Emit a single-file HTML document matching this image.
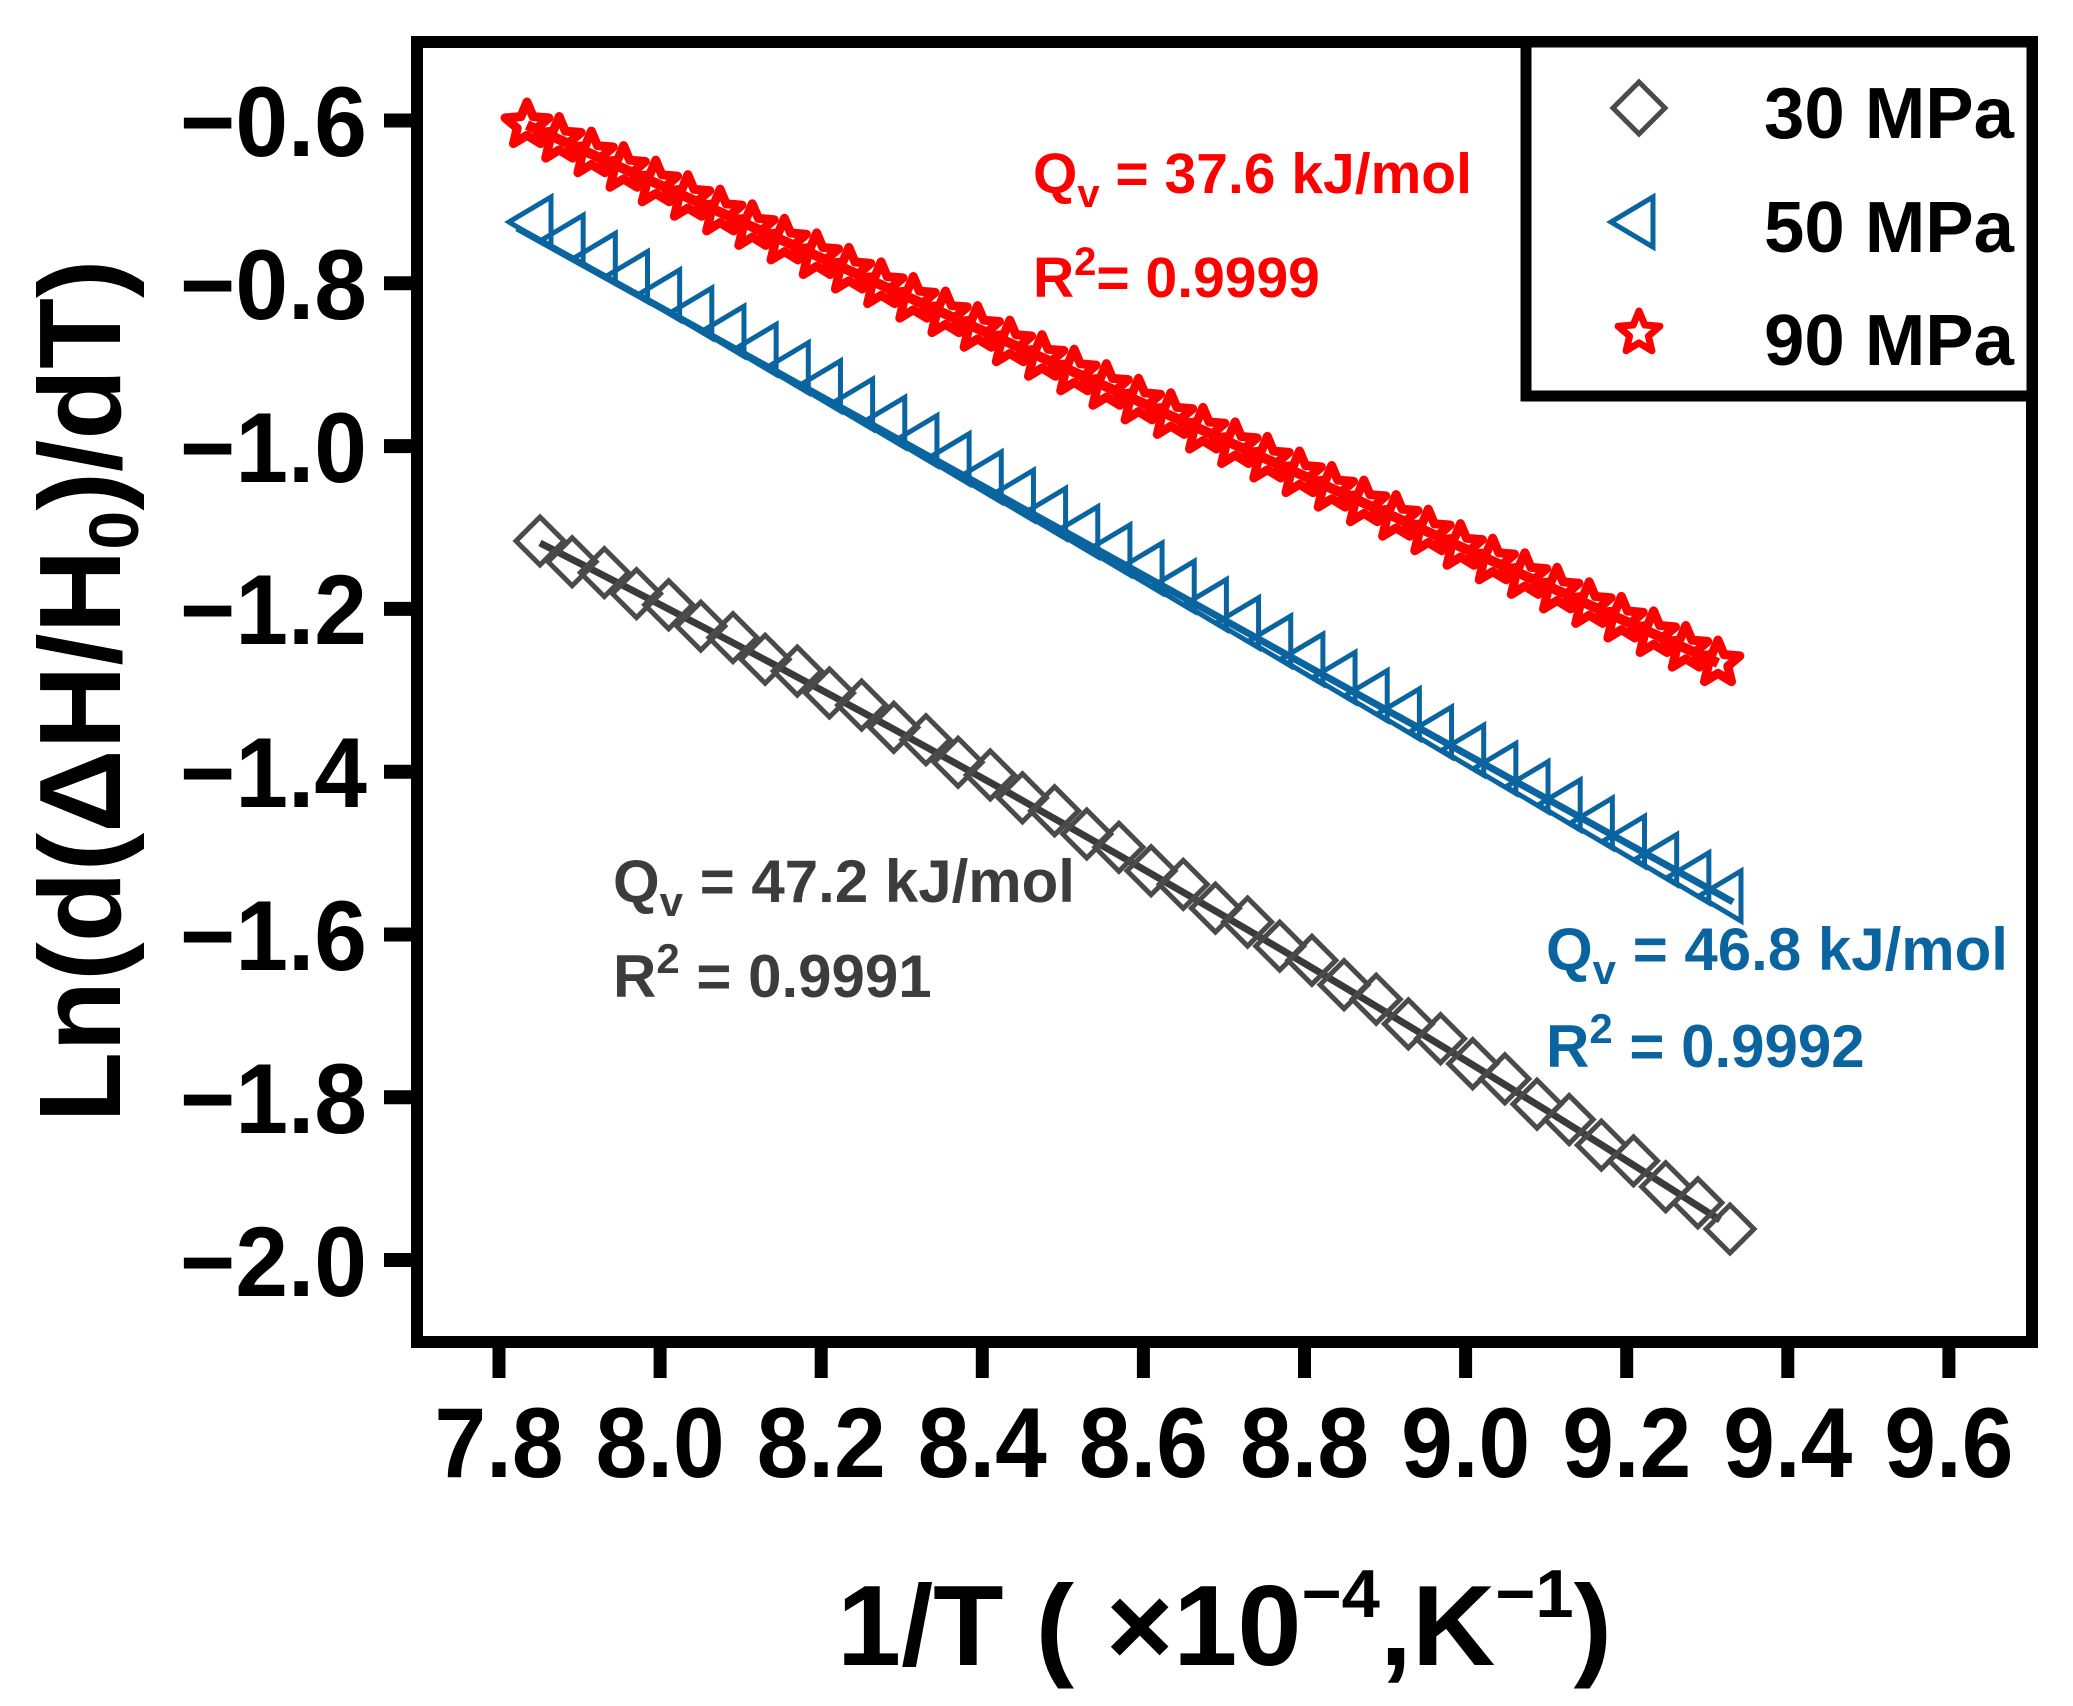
<!DOCTYPE html>
<html><head><meta charset="utf-8"><style>
html,body{margin:0;padding:0;background:#fff;}
svg{display:block;}
text{font-family:"Liberation Sans",Arial,sans-serif;font-weight:bold;}
</style></head><body>
<svg id="s" width="2073" height="1706" viewBox="0 0 2073 1706" xmlns="http://www.w3.org/2000/svg">
<rect width="2073" height="1706" fill="#fff"/>
<g id="data"></g>
<rect x="417" y="42" width="1615" height="1300" fill="none" stroke="#000" stroke-width="12"/>
<rect x="1526" y="42" width="506" height="354" fill="#fff" stroke="#000" stroke-width="11"/>
<polygon points="1639,82 1665,108 1639,134 1613,108" fill="none" stroke="#4a4a4a" stroke-width="5"/>
<polygon points="1611,222 1653,197 1653,247" fill="none" stroke="#0a64a0" stroke-width="5"/>
<g id="legstar"></g>
<text x="1764" y="138" font-size="72" textLength="250" lengthAdjust="spacingAndGlyphs">30 MPa</text>
<text x="1764" y="252" font-size="72" textLength="250" lengthAdjust="spacingAndGlyphs">50 MPa</text>
<text x="1764" y="365" font-size="72" textLength="250" lengthAdjust="spacingAndGlyphs">90 MPa</text>
<g stroke="#000" stroke-width="14">
<line x1="384" y1="120.5" x2="417" y2="120.5"/>
<line x1="384" y1="283.3" x2="417" y2="283.3"/>
<line x1="384" y1="446.1" x2="417" y2="446.1"/>
<line x1="384" y1="608.9" x2="417" y2="608.9"/>
<line x1="384" y1="771.7" x2="417" y2="771.7"/>
<line x1="384" y1="934.5" x2="417" y2="934.5"/>
<line x1="384" y1="1097.3" x2="417" y2="1097.3"/>
<line x1="384" y1="1260" x2="417" y2="1260"/>
</g>
<g font-size="99" text-anchor="end">
<text x="367" y="156" textLength="187" lengthAdjust="spacingAndGlyphs">−0.6</text>
<text x="367" y="319" textLength="187" lengthAdjust="spacingAndGlyphs">−0.8</text>
<text x="367" y="482" textLength="187" lengthAdjust="spacingAndGlyphs">−1.0</text>
<text x="367" y="644" textLength="187" lengthAdjust="spacingAndGlyphs">−1.2</text>
<text x="367" y="807" textLength="187" lengthAdjust="spacingAndGlyphs">−1.4</text>
<text x="367" y="970" textLength="187" lengthAdjust="spacingAndGlyphs">−1.6</text>
<text x="367" y="1133" textLength="187" lengthAdjust="spacingAndGlyphs">−1.8</text>
<text x="367" y="1296" textLength="187" lengthAdjust="spacingAndGlyphs">−2.0</text>
</g>
<g id="xt" stroke="#000" stroke-width="13"></g>
<g id="xl" font-size="99" text-anchor="middle"></g>
<text transform="translate(120,691) rotate(-90)" text-anchor="middle" font-size="116">Ln(d(ΔH/H<tspan font-size="70" dy="18">0</tspan><tspan dy="-18">)/dT)</tspan></text>
<text x="837" y="1665" font-size="114" textLength="775" lengthAdjust="spacingAndGlyphs">1/T ( ×10<tspan font-size="68" dy="-48">−4</tspan><tspan dy="48">,K</tspan><tspan font-size="68" dy="-48">−1</tspan><tspan dy="48">)</tspan></text>
<g fill="#ff0000">
<text x="1033" y="193" font-size="57">Q<tspan font-size="40" dy="14">v</tspan><tspan dy="-14"> = 37.6 kJ/mol</tspan></text>
<text x="1033" y="297" font-size="57">R<tspan font-size="40" dy="-22">2</tspan><tspan dy="22">= 0.9999</tspan></text>
</g>
<g fill="#3c3c3c">
<text x="613" y="902" font-size="60">Q<tspan font-size="42" dy="14">v</tspan><tspan dy="-14"> = 47.2 kJ/mol</tspan></text>
<text x="613" y="997" font-size="60">R<tspan font-size="42" dy="-24">2</tspan><tspan dy="24"> = 0.9991</tspan></text>
</g>
<g fill="#0a64a0">
<text x="1546" y="970" font-size="60">Q<tspan font-size="42" dy="14">v</tspan><tspan dy="-14"> = 46.8 kJ/mol</tspan></text>
<text x="1546" y="1067" font-size="60">R<tspan font-size="42" dy="-24">2</tspan><tspan dy="24"> = 0.9992</tspan></text>
</g>
</svg>
<script>
(function(){
var NS="http://www.w3.org/2000/svg";
function el(t,a,p){var e=document.createElementNS(NS,t);for(var k in a)e.setAttribute(k,a[k]);p.appendChild(e);return e;}
var xt=document.getElementById('xt'),xl=document.getElementById('xl');
var labs=["7.8","8.0","8.2","8.4","8.6","8.8","9.0","9.2","9.4","9.6"];
for(var i=0;i<10;i++){var x=499+i*161.1;
 el('line',{x1:x,y1:1342,x2:x,y2:1378},xt);
 var t=el('text',{x:x,y:1477,textLength:129,lengthAdjust:'spacingAndGlyphs'},xl);t.textContent=labs[i];}
var g=document.getElementById('data');
function star(cx,cy,r,p,sw){var pts=[];for(var k=0;k<10;k++){var a=-Math.PI/2+k*Math.PI/5;var rr=k%2?r*0.45:r;pts.push((cx+rr*Math.cos(a)).toFixed(1)+","+(cy+rr*Math.sin(a)).toFixed(1));}
 el('polygon',{points:pts.join(' '),fill:'none',stroke:'#ff0000','stroke-width':sw,'stroke-linejoin':'round'},p);}
var N=38;
var gl=[];for(var i=0;i<=20;i++){var t=i/20;gl.push((540+1180*t).toFixed(1)+","+(543+677*t-20*4*t*(1-t)).toFixed(1));}
el('polyline',{points:gl.join(' '),fill:'none',stroke:'#3a3a3a','stroke-width':7},g);
for(var i=0;i<N;i++){var t=i/(N-1);var x=540+1190*t,y=543+683*t-26*4*t*(1-t)+((i%2)?3:-2);
 el('polygon',{points:(x)+","+(y-24)+" "+(x+24)+","+y+" "+x+","+(y+24)+" "+(x-24)+","+y,fill:'none',stroke:'#4a4a4a','stroke-width':5},g);}
el('line',{x1:517,y1:228,x2:1733,y2:902,stroke:'#0a64a0','stroke-width':7},g);
for(var i=0;i<N;i++){var t=i/(N-1);var x=530+1190*t,y=222+674*t;
 el('polygon',{points:(x-21)+","+y+" "+(x+21)+","+(y-25)+" "+(x+21)+","+(y+25),fill:'none',stroke:'#0a64a0','stroke-width':5},g);}
el('line',{x1:527,y1:125,x2:1718,y2:663,stroke:'#ff0000','stroke-width':10},g);
for(var i=0;i<N;i++){var t=i/(N-1);var x=527+1191*t,y=125+538*t;star(x,y,23,g,9);}
star(1639,333,22,document.getElementById('legstar'),7);
})();
</script>
</body></html>
